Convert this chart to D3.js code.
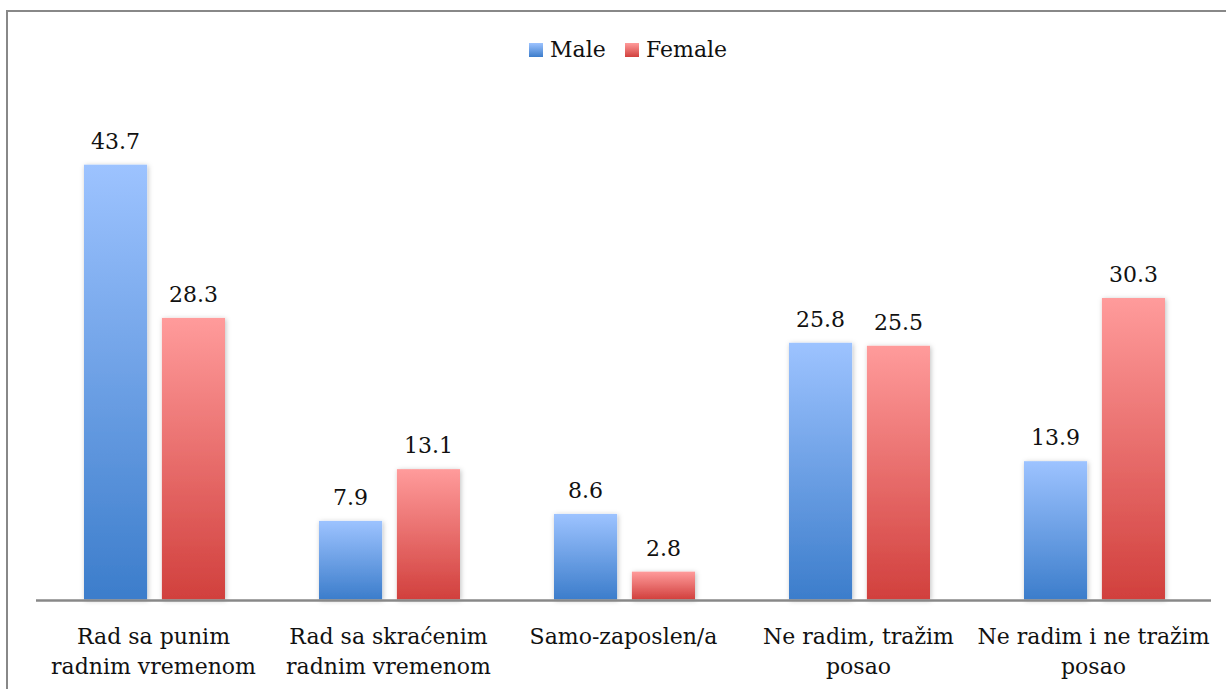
<!DOCTYPE html>
<html>
<head>
<meta charset="utf-8">
<script src="https://cdn.jsdelivr.net/npm/d3@7"></script>
<style>
  body { margin: 0; background: #fff; }
  text { font-family: "DejaVu Serif", serif; fill: #111; }
</style>
</head>
<body>
<div id="chart"></div>
<script>
// chart data
var categories = [
	["Rad sa punim", "radnim vremenom"],
	["Rad sa skraćenim", "radnim vremenom"],
	["Samo-zaposlen/a"],
	["Ne radim, tražim", "posao"],
	["Ne radim i ne tražim", "posao"]
];
var seriesNames = ["Male", "Female"];
var maleValues = [43.7, 7.9, 8.6, 25.8, 13.9];
var femaleValues = [28.3, 13.1, 2.8, 25.5, 30.3];

var WIDTH = 1226,
	HEIGHT = 689,
	MARGINS = {top: 102, bottom: 89, left: 36, right: 15};

var svg = d3.select("#chart").append("svg")
	.attr("width", WIDTH)
	.attr("height", HEIGHT);

var defs = svg.append("defs");

function gradient(id, top, bottom) {
	var g = defs.append("linearGradient")
		.attr("id", id)
		.attr("x1", 0).attr("y1", 0).attr("x2", 0).attr("y2", 1);
	g.append("stop").attr("offset", "0%").attr("stop-color", top);
	g.append("stop").attr("offset", "100%").attr("stop-color", bottom);
}
gradient("gradMale", "#9dc3ff", "#3c7dcb");
gradient("gradFemale", "#ff9b9b", "#d1403d");

var shadow = defs.append("filter").attr("id", "shadow")
	.attr("x", "-20%").attr("y", "-20%").attr("width", "140%").attr("height", "140%");
shadow.append("feDropShadow")
	.attr("dx", 1).attr("dy", 1).attr("stdDeviation", 2.5)
	.attr("flood-color", "#000").attr("flood-opacity", 0.25);

var fills = ["url(#gradMale)", "url(#gradFemale)"];

// outer border (right and bottom edges fall outside the picture)
svg.append("rect")
	.attr("x", 7).attr("y", 11)
	.attr("width", WIDTH + 10).attr("height", HEIGHT + 10)
	.attr("fill", "none")
	.attr("stroke", "#888")
	.attr("stroke-width", 2);

// scales
var xScale = d3.scaleBand()
	.domain(d3.range(categories.length))
	.range([MARGINS.left, WIDTH - MARGINS.right]);

var xInner = d3.scaleBand()
	.domain(seriesNames)
	.range([0, 141])
	.paddingInner(0.19);

var yScale = d3.scaleLinear()
	.domain([0, 50])
	.range([HEIGHT - MARGINS.bottom - 0.5, MARGINS.top]);

var rows = categories.map(function(c, i) {
	return {i: i, values: [
		{name: "Male", value: maleValues[i], k: 0},
		{name: "Female", value: femaleValues[i], k: 1}
	]};
});

var groups = svg.selectAll(".group")
	.data(rows)
	.enter().append("g")
	.attr("class", "group")
	.attr("transform", function(d) {
		return "translate(" + (xScale(d.i) + (xScale.bandwidth() - 141) / 2 + 1) + ",0)";
	});

groups.selectAll("rect")
	.data(function(d) { return d.values; })
	.enter().append("rect")
	.attr("x", function(d) { return xInner(d.name); })
	.attr("y", function(d) { return yScale(d.value); })
	.attr("width", xInner.bandwidth())
	.attr("height", function(d) { return yScale(0) - yScale(d.value); })
	.attr("fill", function(d) { return fills[d.k]; })
	.attr("filter", "url(#shadow)");

groups.selectAll(".value")
	.data(function(d) { return d.values; })
	.enter().append("text")
	.attr("class", "value")
	.attr("x", function(d) { return xInner(d.name) + xInner.bandwidth() / 2; })
	.attr("y", function(d) { return yScale(d.value) - 16; })
	.attr("text-anchor", "middle")
	.style("font-size", "22px")
	.text(function(d) { return d.value.toFixed(1); });

// x axis line
svg.append("line")
	.attr("x1", MARGINS.left).attr("x2", WIDTH - MARGINS.right)
	.attr("y1", yScale(0) + 1).attr("y2", yScale(0) + 1)
	.attr("stroke", "#888")
	.attr("stroke-width", 2.5);

// category labels
var labels = svg.selectAll(".cat")
	.data(categories)
	.enter().append("text")
	.attr("class", "cat")
	.attr("text-anchor", "middle")
	.style("font-size", "22px")
	.attr("transform", function(d, i) {
		return "translate(" + (xScale(i) + xScale.bandwidth() / 2) + ",644)";
	});
labels.selectAll("tspan")
	.data(function(d) { return d; })
	.enter().append("tspan")
	.attr("x", 0)
	.attr("dy", function(d, i) { return i === 0 ? 0 : 30; })
	.text(function(d) { return d; });

// legend
var legendX = [529, 625];
var legend = svg.selectAll(".legend")
	.data(seriesNames)
	.enter().append("g")
	.attr("class", "legend")
	.attr("transform", function(d, i) { return "translate(" + legendX[i] + ",43)"; });
legend.append("rect")
	.attr("width", 14).attr("height", 14)
	.attr("fill", function(d, i) { return fills[i]; });
legend.append("text")
	.attr("x", 21).attr("y", 14)
	.style("font-size", "22px")
	.text(function(d) { return d; });
</script>
</body>
</html>
